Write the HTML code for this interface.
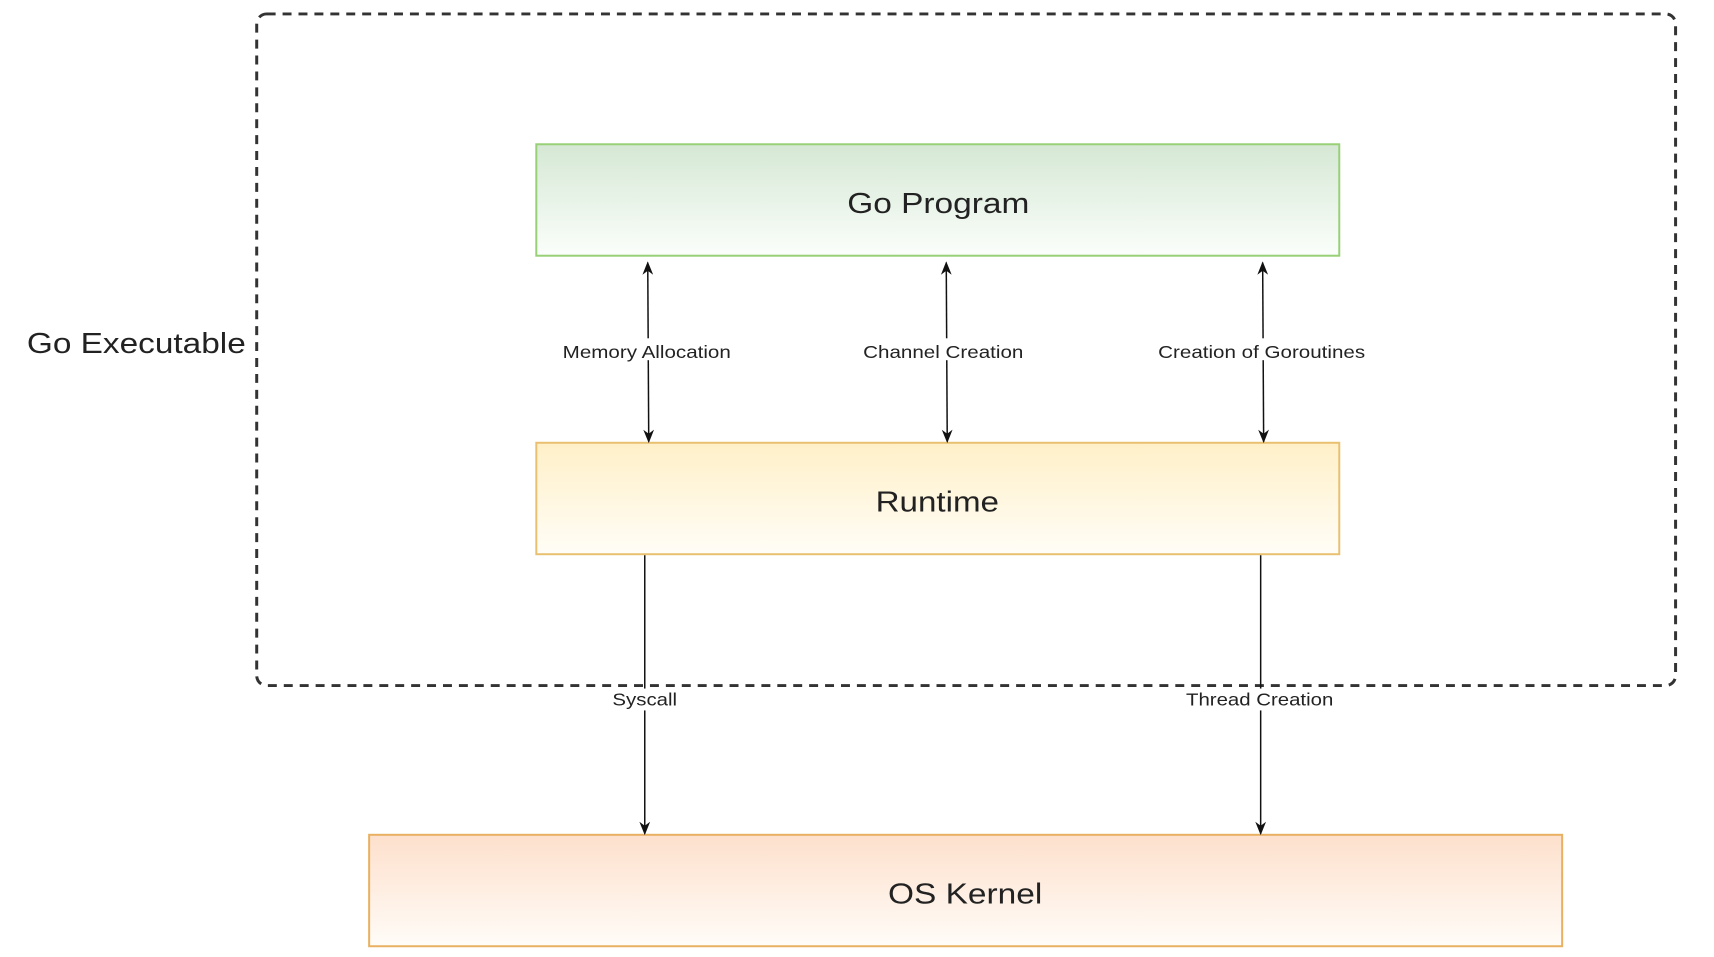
<!DOCTYPE html>
<html><head><meta charset="utf-8"><style>html,body{margin:0;padding:0;background:#fff;}svg{display:block}</style></head>
<body>
<svg width="1714" height="957" viewBox="0 0 1714 957" xmlns="http://www.w3.org/2000/svg" font-family="Liberation Sans, sans-serif">
<defs>
<linearGradient id="g" x1="0" y1="0" x2="0" y2="1"><stop offset="0" stop-color="#d5e8d4"/><stop offset="1" stop-color="#fbfefb"/></linearGradient>
<linearGradient id="y" x1="0" y1="0" x2="0" y2="1"><stop offset="0" stop-color="#fff0c8"/><stop offset="1" stop-color="#fffdf7"/></linearGradient>
<linearGradient id="o" x1="0" y1="0" x2="0" y2="1"><stop offset="0" stop-color="#fde0cc"/><stop offset="1" stop-color="#fffcf8"/></linearGradient>
<marker id="a" viewBox="0 0 10 10" refX="9" refY="5" markerWidth="9" markerHeight="9" orient="auto-start-reverse"><path d="M0,1 L10,5 L0,9 L3,5 z" fill="#111"/></marker>
</defs>
<g transform="scale(0.995)">
<rect x="258" y="14" width="1426" height="675" rx="10" fill="none" stroke="#333" stroke-width="3" stroke-dasharray="9,7"/>
<text x="137" y="355" font-size="29" text-anchor="middle" fill="#222" textLength="220" lengthAdjust="spacingAndGlyphs">Go Executable</text>
<rect x="539" y="145" width="807" height="112" fill="url(#g)" stroke="#97d077" stroke-width="2"/>
<text x="943" y="214" font-size="29" text-anchor="middle" fill="#222" textLength="183" lengthAdjust="spacingAndGlyphs">Go Program</text>
<rect x="539" y="445" width="807" height="112" fill="url(#y)" stroke="#e8c070" stroke-width="2"/>
<text x="942" y="514" font-size="29" text-anchor="middle" fill="#222" textLength="124" lengthAdjust="spacingAndGlyphs">Runtime</text>
<rect x="371" y="839" width="1199" height="112" fill="url(#o)" stroke="#e8b060" stroke-width="2"/>
<text x="970" y="908" font-size="29" text-anchor="middle" fill="#222" textLength="155" lengthAdjust="spacingAndGlyphs">OS Kernel</text>
<g stroke="#111" stroke-width="1.5" fill="none">
<line x1="651" y1="264" x2="652" y2="444" marker-start="url(#a)" marker-end="url(#a)"/>
<line x1="951" y1="264" x2="952" y2="444" marker-start="url(#a)" marker-end="url(#a)"/>
<line x1="1269" y1="264" x2="1270" y2="444" marker-start="url(#a)" marker-end="url(#a)"/>
<line x1="648" y1="558" x2="648" y2="838" marker-end="url(#a)"/>
<line x1="1267" y1="558" x2="1267" y2="838" marker-end="url(#a)"/>
</g>
<g font-size="18" text-anchor="middle" fill="#222">
<rect x="562" y="340" width="172" height="22" fill="#fff"/>
<text x="650" y="360" textLength="169" lengthAdjust="spacingAndGlyphs">Memory Allocation</text>
<rect x="866" y="340" width="164" height="22" fill="#fff"/>
<text x="948" y="360" textLength="161" lengthAdjust="spacingAndGlyphs">Channel Creation</text>
<rect x="1162" y="340" width="212" height="22" fill="#fff"/>
<text x="1268" y="360" textLength="208" lengthAdjust="spacingAndGlyphs">Creation of Goroutines</text>
<rect x="614" y="692" width="68" height="22" fill="#fff"/>
<text x="648" y="709" textLength="65" lengthAdjust="spacingAndGlyphs">Syscall</text>
<rect x="1190" y="692" width="152" height="22" fill="#fff"/>
<text x="1266" y="709" textLength="148" lengthAdjust="spacingAndGlyphs">Thread Creation</text>
</g>
</g>
</svg>
</body></html>
